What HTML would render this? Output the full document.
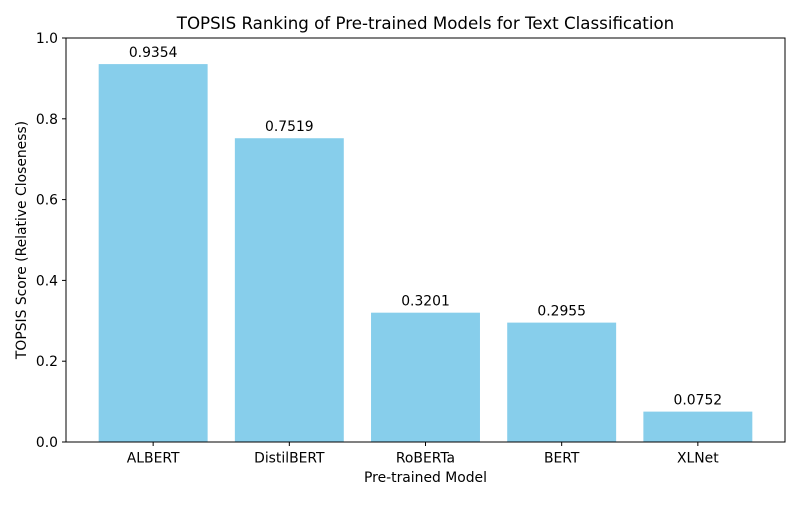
<!DOCTYPE html>
<html><head><meta charset="utf-8"><style>
body{margin:0;background:#fff;}
svg{font-family:"DejaVu Sans","Liberation Sans",sans-serif;}
</style></head><body>
<svg id="chart" width="800" height="500" viewBox="0 0 800 500" xmlns="http://www.w3.org/2000/svg">
<rect width="800" height="500" fill="#fff"/>
<text x="425.5" y="29" font-size="16.67" text-anchor="middle">TOPSIS Ranking of Pre-trained Models for Text Classification</text>
<g id="bars"></g>
<g id="axes"></g>
<text x="425.5" y="482" font-size="13.9" text-anchor="middle">Pre-trained Model</text>
<text transform="translate(26,240) rotate(-90)" font-size="13.9" text-anchor="middle">TOPSIS Score (Relative Closeness)</text>
</svg>
<script>
const categories = ["ALBERT","DistilBERT","RoBERTa","BERT","XLNet"];
const scores = [0.9354,0.7519,0.3201,0.2955,0.0752];
const yTicks = [0,0.2,0.4,0.6,0.8,1.0];
const yTickLabels = ["0.0","0.2","0.4","0.6","0.8","1.0"];

const L=66,R=785,T=38,B=442;
const xMin=-0.64,xMax=4.64;
const xs=v=>L+(v-xMin)/(xMax-xMin)*(R-L);
const ys=v=>B-v*(B-T);
const NS="http://www.w3.org/2000/svg";
const bars=document.getElementById('bars'), axes=document.getElementById('axes');
function mk(tag,attrs,parent){const e=document.createElementNS(NS,tag);for(const k in attrs)e.setAttribute(k,attrs[k]);parent.appendChild(e);return e;}
const bw=0.8*(R-L)/(xMax-xMin);
categories.forEach((c,i)=>{
  const cx=xs(i), v=scores[i];
  const r=mk('rect',{x:cx-bw/2,y:ys(v),width:bw,height:B-ys(v),fill:'#87ceeb'},bars);
  
  
  const t=mk('text',{x:cx,y:ys(v)-7,'font-size':13.9,'text-anchor':'middle'},bars);
  t.textContent=v.toFixed(4);
  
  
  mk('line',{x1:cx,x2:cx,y1:B,y2:B+4,stroke:'#000','stroke-width':1},axes);
  const xl=mk('text',{x:cx,y:B+20.5,'font-size':13.9,'text-anchor':'middle'},axes);
  xl.textContent=c;
  
  
});
yTicks.forEach((v,i)=>{
  const y=ys(v);
  mk('line',{x1:L-4,x2:L,y1:y,y2:y,stroke:'#000','stroke-width':1},axes);
  const yl=mk('text',{x:L-8,y:y+5,'font-size':13.9,'text-anchor':'end'},axes);
  yl.textContent=yTickLabels[i];
  
  
});
const frame=mk('rect',{x:L,y:T,width:R-L,height:B-T,fill:'none',stroke:'#000','stroke-width':1},axes);


</script>
</body></html>
